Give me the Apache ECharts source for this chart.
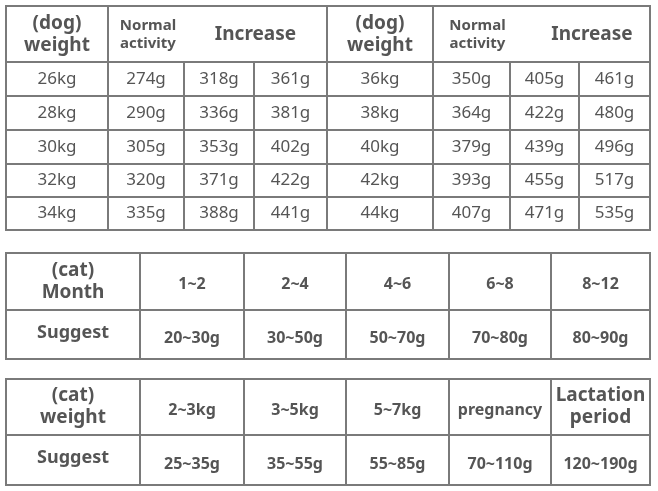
<!DOCTYPE html>
<html><head><meta charset="utf-8">
<script src="https://cdn.jsdelivr.net/npm/echarts@6/dist/echarts.min.js"></script>
<style>html,body{margin:0;padding:0;background:#fff}#main{width:658px;height:491px}</style>
</head><body><div id="main"></div>
<script>
// dog table
var dogWeightL = ['26kg', '28kg', '30kg', '32kg', '34kg'];
var dogNormalL = ['274g', '290g', '305g', '320g', '335g'];
var dogInc1L = ['318g', '336g', '353g', '371g', '388g'];
var dogInc2L = ['361g', '381g', '402g', '422g', '441g'];
var dogWeightR = ['36kg', '38kg', '40kg', '42kg', '44kg'];
var dogNormalR = ['350g', '364g', '379g', '393g', '407g'];
var dogInc1R = ['405g', '422g', '439g', '455g', '471g'];
var dogInc2R = ['461g', '480g', '496g', '517g', '535g'];
// cat tables
var catMonths = ['1~2', '2~4', '4~6', '6~8', '8~12'];
var catMonthSuggest = ['20~30g', '30~50g', '50~70g', '70~80g', '80~90g'];
var catWeights = ['2~3kg', '3~5kg', '5~7kg', 'pregnancy', 'Lactation\nperiod'];
var catWeightSuggest = ['25~35g', '35~55g', '55~85g', '70~110g', '120~190g'];

var LINE = '#7a7a7a', TXT = '#555';
var els = [];
function rect(x1, y1, x2, y2) {
  els.push({type: 'rect', shape: {x: x1, y: y1, width: x2 - x1, height: y2 - y1},
    style: {fill: 'none', stroke: LINE, lineWidth: 2}});
}
function line(x1, y1, x2, y2) {
  els.push({type: 'line', shape: {x1: x1, y1: y1, x2: x2, y2: y2}, style: {stroke: LINE, lineWidth: 2}});
}
function txt(s, x, y, size, bold, lh) {
  els.push({type: 'text', x: x, y: y, style: {text: s, fill: TXT, font: (bold ? 'bold ' : '') + size + 'px "Noto Sans"',
    align: 'center', verticalAlign: 'middle', lineHeight: lh || size * 1.15}});
}

// table 1
var cols = [6, 108, 184, 254, 327, 433, 510, 579, 650];
var rows = [6, 62, 96, 130, 164, 197, 230];
rect(6, 6, 650, 230);
for (var r = 1; r < rows.length - 1; r++) line(6, rows[r], 650, rows[r]);
[1, 4, 5].forEach(function (c) { line(cols[c], 6, cols[c], 230); });
[2, 3, 6, 7].forEach(function (c) { line(cols[c], 62, cols[c], 230); });
[0, 4].forEach(function (o) {
  txt('(dog)\nweight', (cols[o] + cols[o + 1]) / 2, 35, 19, true, 22);
  txt('Normal\nactivity', (cols[o + 1] + cols[o + 2]) / 2 + (o ? 6 : 2), 35, 15, true, 18);
  txt('Increase', (cols[o + 2] + cols[o + 4]) / 2 + (o ? 12 : 0), 35, 19, true);
});
var sets = [[dogWeightL, dogNormalL, dogInc1L, dogInc2L], [dogWeightR, dogNormalR, dogInc1R, dogInc2R]];
sets.forEach(function (set, h) {
  set.forEach(function (arr, c) {
    arr.forEach(function (v, i) {
      var ci = h * 4 + c;
      txt(v, (cols[ci] + cols[ci + 1]) / 2, (rows[i + 1] + rows[i + 2]) / 2, 17, false);
    });
  });
});

// cat tables
var ccols = [6, 140, 244, 346, 449, 551, 650];
function catTable(y0, ym, y1, head, heads, sug) {
  rect(6, y0, 650, y1);
  line(6, ym, 650, ym);
  for (var c = 1; c < ccols.length - 1; c++) line(ccols[c], y0, ccols[c], y1);
  txt(head, 73, (y0 + ym) / 2, 19, true, 22);
  txt('Suggest', 73, (ym + y1) / 2 - 2, 18, true);
  heads.forEach(function (v, i) {
    var big = v.indexOf('\n') >= 0;
    txt(v, (ccols[i + 1] + ccols[i + 2]) / 2, (y0 + ym) / 2 + (big ? 0 : 3), big ? 19 : 16, true, 22);
  });
  sug.forEach(function (v, i) {
    txt(v, (ccols[i + 1] + ccols[i + 2]) / 2, (ym + y1) / 2 + 4, 16, true);
  });
}
catTable(253, 310, 359, '(cat)\nMonth', catMonths, catMonthSuggest);
catTable(379, 435, 485, '(cat)\nweight', catWeights, catWeightSuggest);

var chart = echarts.init(document.getElementById('main'));
chart.setOption({graphic: {elements: els}});
</script></body></html>
